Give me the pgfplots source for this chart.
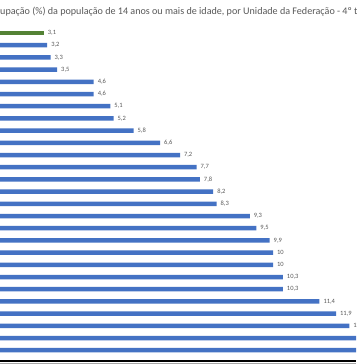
\documentclass[border=0pt]{standalone}
\usepackage{fontspec}
\setmainfont{Carlito}
\usepackage{pgfplots}
\pgfplotsset{compat=1.18}
\definecolor{barblue}{HTML}{4472C4}
\definecolor{bargreen}{HTML}{548235}
\definecolor{txtgray}{HTML}{595959}
\pgfplotstableread{
idx val
1 3.1
2 3.2
3 3.3
4 3.5
5 4.6
6 4.6
7 5.1
8 5.2
9 5.8
10 6.6
11 7.2
12 7.7
13 7.8
14 8.2
15 8.3
16 9.3
17 9.5
18 9.9
19 10
20 10
21 10.3
22 10.3
23 11.4
24 11.9
25 12.3
26 13.1
27 13.9
}\datatable
\begin{document}
\begin{tikzpicture}
\path[use as bounding box] (0,0) rectangle (356pt,364pt);
\clip (0,0) rectangle (356pt,364pt);
\fill[white] (0,0) rectangle (356pt,364pt);
\begin{axis}[
  at={(-59pt,343.2pt)}, anchor=north west,
  x=33.2pt, y=12.2pt,
  xmin=0, xmax=16, ymin=0, ymax=28,
  y dir=reverse,
  hide axis,
  xbar, bar width=4.5pt,
  bar shift=0pt,
  nodes near coords,
  nodes near coords align={horizontal},
  every node near coord/.append style={font=\fontsize{6.5}{7}\selectfont, text=txtgray, /pgf/number format/assume math mode=true, /pgf/number format/use comma, xshift=0.5pt},
  clip=false,
]
\addplot[draw=none, fill=bargreen] coordinates {(3.1,1)};
\addplot[draw=none, fill=barblue] table[x=val, y=idx, skip coords between index={0}{1}] {\datatable};
\end{axis}
\node[anchor=base east, inner sep=0pt, text=txtgray, font=\fontsize{10.1}{12}\selectfont] at (0,349pt) {Taxa de desoc};
\node[anchor=base west, inner sep=0pt, text=txtgray, font=\fontsize{10.1}{12}\selectfont] at (0,349pt) {upação (\%) da população de 14 anos ou mais de idade, por Unidade da Federação - 4º trimestre 2023};
\draw[black!80, line width=1pt] (0,364pt) -- (356pt,364pt);
\draw[black, line width=2pt] (0,3pt) -- (356pt,3pt);
\draw[black!35, line width=1pt] (0,0.5pt) -- (356pt,0.5pt);
\end{tikzpicture}
\end{document}
